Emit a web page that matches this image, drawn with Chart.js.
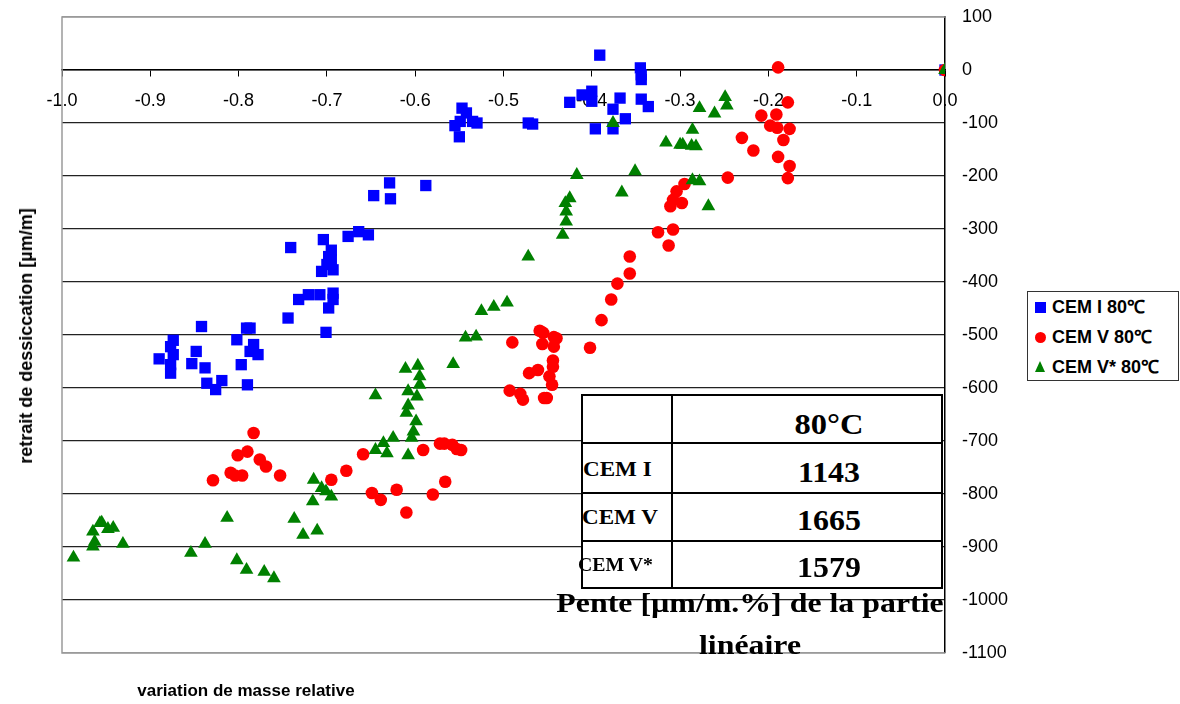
<!DOCTYPE html>
<html><head><meta charset="utf-8">
<script src="https://cdn.jsdelivr.net/npm/chart.js@4.4.0/dist/chart.umd.min.js"></script>
<style>
html,body{margin:0;padding:0;background:#fff;}
#wrap{position:relative;width:1180px;height:704px;overflow:hidden;background:#fff;}
canvas{position:absolute;left:0;top:0;}
.ov{position:absolute;white-space:nowrap;line-height:1;color:#000;}
.sans{font-family:"Liberation Sans",Arial,sans-serif;font-weight:bold;}
.serif{font-family:"Liberation Serif","Times New Roman",serif;font-weight:bold;}
.ln{position:absolute;background:#000;}
</style></head><body>
<div id="wrap">
<canvas id="c" width="1180" height="704"></canvas>
</div>
<script>
// ---------- data ----------
const seriesNames = ['CEM I 80\u2103', 'CEM V 80\u2103', 'CEM V* 80\u2103'];
const seriesColors = ['#0000FF', '#FF0000', '#008000'];

const cem1X = [0,-0.391,-0.345,-0.344,-0.344,-0.344,-0.336,-0.362,-0.411,-0.400,-0.400,-0.425,-0.368,-0.376,-0.396,-0.376,
  -0.472,-0.467,-0.547,-0.542,-0.555,-0.549,-0.535,-0.530,-0.550,-0.629,-0.647,-0.628,-0.588,-0.676,-0.664,-0.653,
  -0.741,-0.704,-0.695,-0.698,-0.700,-0.706,-0.693,-0.695,-0.732,-0.721,-0.708,-0.693,-0.698,-0.693,-0.744,-0.701,
  -0.842,-0.874,-0.877,-0.874,-0.890,-0.877,-0.877,-0.848,-0.853,-0.838,-0.836,-0.826,-0.819,-0.802,-0.791,-0.787,
  -0.783,-0.787,-0.778,-0.797,-0.790];
const cem1Y = [0,28,4,-9,-18,-55,-69,-92,-47,-40,-59,-61,-53,-74,-111,-111,
  -100,-102,-72,-81,-105,-97,-97,-100,-126,-213,-237,-243,-218,-314,-305,-311,
  -335,-320,-340,-352,-367,-380,-377,-358,-433,-424,-424,-421,-449,-433,-468,-495,
  -484,-510,-522,-537,-545,-556,-572,-531,-554,-562,-591,-603,-586,-509,-487,-487,
  -518,-531,-537,-556,-594];

const cem5X = [0,-0.189,-0.178,-0.208,-0.191,-0.198,-0.190,-0.176,-0.183,-0.230,-0.217,-0.189,-0.176,-0.178,-0.246,
  -0.295,-0.304,-0.298,-0.311,-0.308,-0.308,-0.325,-0.313,-0.357,-0.357,-0.371,-0.378,-0.389,-0.402,
  -0.459,-0.455,-0.443,-0.440,-0.456,-0.443,-0.490,-0.444,-0.444,-0.448,-0.445,-0.471,-0.461,-0.454,-0.451,
  -0.493,-0.481,-0.478,-0.572,-0.567,-0.558,-0.553,-0.548,-0.591,-0.659,-0.678,
  -0.566,-0.649,-0.621,-0.580,-0.639,-0.610,-0.695,
  -0.783,-0.801,-0.790,-0.809,-0.804,-0.796,-0.829,-0.776,-0.769,-0.753];
const cem5Y = [0,5,-61,-86,-84,-105,-109,-111,-132,-128,-152,-164,-181,-204,-203,
  -215,-229,-251,-257,-245,-301,-306,-331,-352,-384,-403,-433,-472,-524,
  -492,-496,-504,-506,-517,-522,-514,-548,-560,-578,-594,-572,-566,-619,-619,
  -605,-611,-622,-705,-705,-707,-715,-717,-717,-725,-756,
  -777,-798,-792,-801,-811,-835,-773,
  -685,-727,-720,-760,-765,-765,-774,-735,-748,-765];

const cem5sX = [0,-0.249,-0.247,-0.278,-0.261,-0.286,-0.316,-0.300,-0.297,-0.287,-0.282,-0.351,-0.366,-0.286,-0.278,-0.268,
  -0.376,-0.417,-0.425,-0.430,-0.429,-0.429,-0.433,-0.472,
  -0.496,-0.511,-0.525,-0.531,-0.543,-0.557,
  -0.611,-0.597,-0.595,-0.595,-0.608,-0.598,-0.608,-0.610,-0.599,-0.602,-0.604,-0.625,-0.636,-0.645,-0.632,-0.608,-0.645,
  -0.715,-0.706,-0.701,-0.695,-0.716,-0.727,-0.711,-0.737,
  -0.987,-0.965,-0.963,-0.965,-0.957,-0.955,-0.948,-0.942,-0.931,
  -0.854,-0.838,-0.813,-0.802,-0.791,-0.771,-0.760];
const cem5sY = [0,-51,-67,-72,-82,-113,-137,-141,-141,-143,-144,-191,-231,-208,-210,-257,
  -100,-198,-242,-251,-267,-286,-311,-352,
  -439,-447,-455,-503,-505,-555,
  -564,-558,-578,-594,-606,-616,-633,-647,-663,-682,-694,-694,-704,-717,-723,-727,-614,
  -773,-789,-795,-805,-814,-877,-869,-847,
  -920,-899,-890,-871,-855,-854,-866,-864,-894,
  -911,-894,-845,-925,-943,-947,-959];

const tableHeader = '80\u00b0C';
const tableRows = ['CEM I', 'CEM V', 'CEM V*'];
const tableSlopes = [1143, 1665, 1579];
const tableCaption = ['Pente [\u00b5m/m.%] de la partie', 'lin\u00e9aire'];
const yTitle = 'retrait de dessiccation [\u00b5m/m]';
const xTitle = 'variation de masse relative';

// ---------- chart ----------
const pts = (xs, ys) => xs.map((x, i) => ({x: x, y: ys[i]}));
const SANS = '"Liberation Sans", Arial, sans-serif';

const borderPlugin = {
  id: 'plotBorder',
  beforeDatasetsDraw(chart) {
    const a = chart.chartArea, c = chart.ctx;
    c.save();
    c.strokeStyle = '#9a9a9a';
    c.lineWidth = 1.5;
    c.beginPath();
    c.moveTo(a.right, a.top); c.lineTo(a.left, a.top); c.lineTo(a.left, a.bottom); c.lineTo(a.right, a.bottom);
    c.stroke();
    c.restore();
  }
};

new Chart(document.getElementById('c'), {
  type: 'scatter',
  data: {
    datasets: [
      {label: seriesNames[0], data: pts(cem1X, cem1Y), pointStyle: 'rect', pointRadius: 8,
       backgroundColor: seriesColors[0], borderColor: seriesColors[0], borderWidth: 0, order: 3},
      {label: seriesNames[1], data: pts(cem5X, cem5Y), pointStyle: 'circle', pointRadius: 6.3,
       backgroundColor: seriesColors[1], borderColor: seriesColors[1], borderWidth: 0, order: 2},
      {label: seriesNames[2], data: pts(cem5sX, cem5sY), pointStyle: 'triangle', pointRadius: 7.9,
       backgroundColor: seriesColors[2], borderColor: seriesColors[2], borderWidth: 0, order: 1}
    ]
  },
  options: {
    responsive: false,
    animation: false,
    events: [],
    layout: {padding: {left: 62, top: 17, right: 0, bottom: 51}},
    plugins: {legend: {display: false}, tooltip: {enabled: false}},
    scales: {
      x: {
        type: 'linear', min: -1, max: 0,
        position: {y: 0},
        afterFit: s => { s.paddingLeft = 0; s.paddingRight = 0; },
        grid: {drawOnChartArea: false, drawTicks: true, tickLength: 6, color: '#000', lineWidth: 1},
        border: {display: true, color: '#000', width: 1.5},
        ticks: {stepSize: 0.1, autoSkip: false, maxRotation: 0, padding: 14, color: '#000',
                font: {family: SANS, size: 18},
                callback: v => (Math.round(v * 10) / 10).toFixed(1)}
      },
      y: {
        type: 'linear', min: -1100, max: 100, position: 'right',
        afterFit: s => { s.width = 235; s.paddingTop = 0; s.paddingBottom = 0; },
        grid: {drawTicks: false, lineWidth: 1.3,
               color: c => (c.tick && (c.tick.value === 100 || c.tick.value === -1100)) ? '#9a9a9a' : '#222'},
        border: {display: true, color: '#000', width: 1.5},
        ticks: {stepSize: 100, padding: 17, color: '#000', font: {family: SANS, size: 18},
                callback: v => String(Math.round(v))}
      }
    }
  },
  plugins: [borderPlugin]
});

// ---------- overlays (real text) ----------
const wrap = document.getElementById('wrap');
function addText(txt, cls, size, x, baseline, align, sx) {
  const d = document.createElement('div');
  d.className = 'ov ' + cls;
  d.textContent = txt;
  d.style.fontSize = size + 'px';
  const asc = cls === 'serif' ? 0.8375 : 0.8465;
  d.style.top = (baseline - asc * size) + 'px';
  d.style.left = x + 'px';
  const s = sx || 1;
  if (align === 'center') { d.style.transformOrigin = 'center'; d.style.transform = 'translateX(-50%) scaleX(' + s + ')'; }
  else { d.style.transformOrigin = '0 0'; d.style.transform = 'scaleX(' + s + ')'; }
  wrap.appendChild(d);
  return d;
}
function addLine(l, t, w, h, col) {
  const d = document.createElement('div');
  d.className = 'ln';
  d.style.left = l + 'px'; d.style.top = t + 'px'; d.style.width = w + 'px'; d.style.height = h + 'px';
  if (col) d.style.background = col;
  wrap.appendChild(d);
}

// axis titles
const yt = document.createElement('div');
yt.className = 'ov sans'; yt.textContent = yTitle; yt.style.fontSize = '18px';
yt.style.left = '26px'; yt.style.top = '336px';
yt.style.transform = 'translate(-50%,-50%) rotate(-90deg)';
wrap.appendChild(yt);
addText(xTitle, 'sans', 17, 246, 696, 'center');

// legend
const lg = document.createElement('div');
lg.style.cssText = 'position:absolute;left:1027px;top:291px;width:150px;height:88px;border:1px solid #333;background:#fff;';
wrap.appendChild(lg);
const legBase = [313.5, 343.5, 373];
seriesNames.forEach((n, i) => {
  const cy = legBase[i] - 6.5;
  const m = document.createElement('div');
  m.style.position = 'absolute';
  if (i === 0) { m.style.cssText += 'left:1035px;top:' + (cy - 5.5) + 'px;width:11px;height:11px;background:' + seriesColors[0]; }
  else if (i === 1) { m.style.cssText += 'left:1035px;top:' + (cy - 5.5) + 'px;width:11px;height:11px;border-radius:50%;background:' + seriesColors[1]; }
  else { m.style.cssText += 'left:1035px;top:' + (cy - 6) + 'px;width:0;height:0;border-left:5.5px solid transparent;border-right:5.5px solid transparent;border-bottom:11px solid ' + seriesColors[2]; }
  wrap.appendChild(m);
  addText(n, 'sans', 18, 1052, legBase[i], 'left');
});

// table
const T = {l: 582, t: 395, r: 942, b: 588, col: 672, rows: [443, 493, 541]};
const tb = document.createElement('div');
tb.style.cssText = 'position:absolute;left:' + T.l + 'px;top:' + T.t + 'px;width:' + (T.r - T.l) + 'px;height:' + (T.b - T.t) + 'px;background:#fff;';
wrap.appendChild(tb);
addLine(T.l - 1, T.t - 1, T.r - T.l + 2, 2.2);
addLine(T.l - 1, T.b - 1, T.r - T.l + 2, 2.2);
addLine(T.l - 1, T.t - 1, 2.2, T.b - T.t + 2);
addLine(T.r - 1, T.t - 1, 2.2, T.b - T.t + 2);
addLine(T.col - 1, T.t - 1, 2.2, T.b - T.t + 2);
T.rows.forEach(y => addLine(T.l - 1, y - 1, T.r - T.l + 2, 2.2));
const valX = 829;
addText(tableHeader, 'serif', 29, valX, 434, 'center', 1.12);
const rowBase = [477, 525, 571];
const rowSize = [21, 21, 18];
const rowLeft = [582.5, 582, 578];
tableRows.forEach((r, i) => {
  addText(r, 'serif', rowSize[i], rowLeft[i], rowBase[i], 'left', 1.1);
  addText(String(tableSlopes[i]), 'serif', 29, valX, [482, 530, 577][i], 'center', 1.1);
});
addText(tableCaption[0], 'serif', 27, 750, 613, 'center', 1.18);
addText(tableCaption[1], 'serif', 27, 750, 655, 'center', 1.18);
</script>
</body></html>
